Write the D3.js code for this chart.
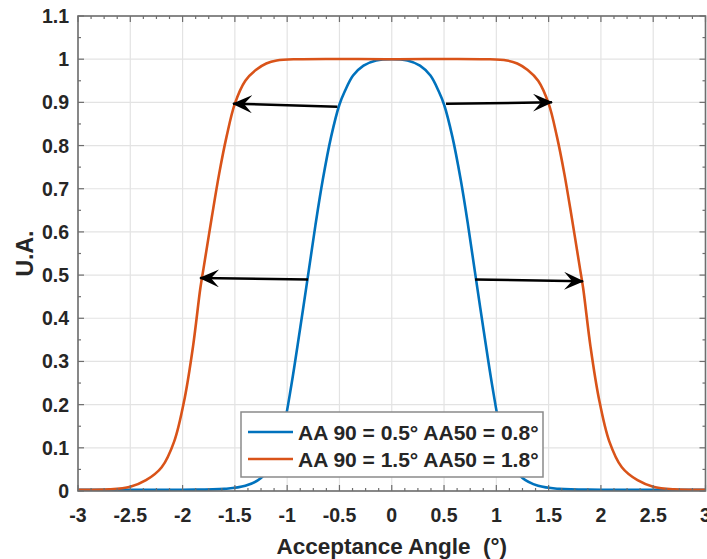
<!DOCTYPE html>
<html lang="en">
<head>
<meta charset="UTF-8">
<title>Acceptance Angle</title>
<script src="https://d3js.org/d3.v7.min.js"></script>
<style>
  body { margin: 0; background: #fff; }
  text { font-family: Arial, "Liberation Sans", sans-serif; font-weight: bold; fill: #262626; }
</style>
</head>
<body>
<div id="chart"></div>
<script>
// values
const blueX = [-3, -2, -1.6, -1.4, -1.25, -1.13, -1.04, -0.96, -0.88, -0.8, -0.73, -0.66, -0.58, -0.5, -0.45, -0.37, -0.27, -0.15, 0,
               0.15, 0.27, 0.37, 0.45, 0.5, 0.58, 0.66, 0.73, 0.8, 0.88, 0.96, 1.04, 1.13, 1.25, 1.4, 1.6, 2, 3];
const blueY = [0.003, 0.003, 0.005, 0.012, 0.03, 0.07, 0.14, 0.245, 0.37, 0.5, 0.615, 0.72, 0.82, 0.895, 0.925, 0.962, 0.985, 0.997, 1.0,
               0.997, 0.985, 0.962, 0.925, 0.895, 0.82, 0.72, 0.615, 0.5, 0.37, 0.245, 0.14, 0.07, 0.03, 0.012, 0.005, 0.003, 0.003];
const orangeX = [-3, -2.7, -2.5, -2.35, -2.2, -2.08, -1.98, -1.9, -1.83, -1.8, -1.72, -1.65, -1.58, -1.5, -1.4, -1.3, -1.2, -1.1, -0.9, 0,
                 0.9, 1.1, 1.2, 1.3, 1.4, 1.5, 1.58, 1.65, 1.72, 1.8, 1.83, 1.9, 1.98, 2.08, 2.2, 2.35, 2.5, 2.7, 3];
const orangeY = [0.003, 0.004, 0.01, 0.025, 0.055, 0.115, 0.215, 0.335, 0.47, 0.515, 0.635, 0.735, 0.82, 0.897, 0.95, 0.975, 0.99, 0.997, 1.0, 1.0,
                 1.0, 0.997, 0.99, 0.975, 0.95, 0.897, 0.82, 0.735, 0.635, 0.515, 0.47, 0.335, 0.215, 0.115, 0.055, 0.025, 0.01, 0.004, 0.003];
const seriesNames = ["AA 90 = 0.5\u00b0 AA50 = 0.8\u00b0", "AA 90 = 1.5\u00b0 AA50 = 1.8\u00b0"];
const xTicks = [-3, -2.5, -2, -1.5, -1, -0.5, 0, 0.5, 1, 1.5, 2, 2.5, 3];
const xTickLabels = ["-3", "-2.5", "-2", "-1.5", "-1", "-0.5", "0", "0.5", "1", "1.5", "2", "2.5", "3"];
const yTicks = [0, 0.1, 0.2, 0.3, 0.4, 0.5, 0.6, 0.7, 0.8, 0.9, 1, 1.1];
const yTickLabels = ["0", "0.1", "0.2", "0.3", "0.4", "0.5", "0.6", "0.7", "0.8", "0.9", "1", "1.1"];
// arrows: tail (x1,y1) -> head (x2,y2)
const arrows = [
  {x1: -0.52, y1: 0.890, x2: -1.517, y2: 0.897},
  {x1: 0.519, y1: 0.897, x2: 1.532, y2: 0.900},
  {x1: -0.80, y1: 0.490, x2: -1.833, y2: 0.493},
  {x1: 0.797, y1: 0.490, x2: 1.829, y2: 0.486}
];

const W = 707, H = 559;
const margin = {top: 16, right: 1.5, bottom: 68, left: 78};
const width = W - margin.left - margin.right;
const height = H - margin.top - margin.bottom;
const colors = ["#0072BD", "#D95319"];

const svg = d3.select("#chart").append("svg")
  .attr("width", W).attr("height", H);
const g = svg.append("g").attr("transform", `translate(${margin.left},${margin.top})`);

const x = d3.scaleLinear().domain([-3, 3]).range([0, width]);
const y = d3.scaleLinear().domain([0, 1.1]).range([height, 0]);

// grid
g.append("g").selectAll("line").data(xTicks).join("line")
  .attr("x1", d => x(d)).attr("x2", d => x(d)).attr("y1", 0).attr("y2", height)
  .attr("stroke", "#e3e3e3").attr("stroke-width", 1.2);
g.append("g").selectAll("line").data(yTicks).join("line")
  .attr("y1", d => y(d)).attr("y2", d => y(d)).attr("x1", 0).attr("x2", width)
  .attr("stroke", "#e3e3e3").attr("stroke-width", 1.2);

// curves
const line = d3.line().x(d => x(d[0])).y(d => y(d[1])).curve(d3.curveCatmullRom.alpha(0.5));
const blue = blueX.map((v, i) => [v, blueY[i]]);
const orange = orangeX.map((v, i) => [v, orangeY[i]]);
[blue, orange].forEach((s, i) => {
  g.append("path").datum(s).attr("d", line)
    .attr("fill", "none").attr("stroke", colors[i]).attr("stroke-width", 2.6);
});

// arrows
const defs = svg.append("defs");
defs.append("marker").attr("id", "head")
  .attr("viewBox", "0 0 20 18").attr("refX", 19).attr("refY", 9)
  .attr("markerWidth", 20).attr("markerHeight", 18)
  .attr("markerUnits", "userSpaceOnUse").attr("orient", "auto")
  .append("path").attr("d", "M0,0 L20,9 L0,18 L8,9 Z").attr("fill", "#000");
g.append("g").selectAll("line").data(arrows).join("line")
  .attr("x1", d => x(d.x1)).attr("y1", d => y(d.y1))
  .attr("x2", d => x(d.x2)).attr("y2", d => y(d.y2))
  .attr("stroke", "#000").attr("stroke-width", 2.5)
  .attr("marker-end", "url(#head)");

// axes box with inward ticks
const axisColor = "#6e6e6e";
const xMinor = d3.range(-3, 3.0001, 0.125);
const yMinor = d3.range(0, 1.1001, 0.05);
const tk = g.append("g").attr("stroke", axisColor).attr("stroke-width", 1.2);
xMinor.forEach(v => {
  const major = Math.abs(v * 2 - Math.round(v * 2)) < 1e-6;
  const len = major ? 6 : 3;
  tk.append("line").attr("x1", x(v)).attr("x2", x(v)).attr("y1", height).attr("y2", height - len);
  tk.append("line").attr("x1", x(v)).attr("x2", x(v)).attr("y1", 0).attr("y2", len);
});
yMinor.forEach(v => {
  const major = Math.abs(v * 10 - Math.round(v * 10)) < 1e-6;
  const len = major ? 6 : 3;
  tk.append("line").attr("y1", y(v)).attr("y2", y(v)).attr("x1", 0).attr("x2", len);
  tk.append("line").attr("y1", y(v)).attr("y2", y(v)).attr("x1", width).attr("x2", width - len);
});
g.append("rect").attr("width", width).attr("height", height)
  .attr("fill", "none").attr("stroke", axisColor).attr("stroke-width", 1.6);

// tick labels
g.append("g").selectAll("text").data(xTicks).join("text")
  .attr("x", d => x(d)).attr("y", height + 31)
  .attr("text-anchor", "middle").style("font-size", "19.5px")
  .text((d, i) => xTickLabels[i]);
g.append("g").selectAll("text").data(yTicks).join("text")
  .attr("x", -9).attr("y", d => y(d) + 7)
  .attr("text-anchor", "end").style("font-size", "19.5px")
  .text((d, i) => yTickLabels[i]);

// axis labels
svg.append("text")
  .attr("x", margin.left + width / 2).attr("y", 554)
  .attr("text-anchor", "middle").style("font-size", "22.5px")
  .text("Acceptance Angle\u00a0\u00a0(\u00b0)");
svg.append("text")
  .attr("transform", `translate(33,${margin.top + height / 2}) rotate(-90)`)
  .attr("text-anchor", "middle").style("font-size", "23px")
  .text("U.A.");

// legend
const lg = svg.append("g").attr("transform", "translate(241,412)");
lg.append("rect").attr("width", 302).attr("height", 65)
  .attr("fill", "#fff").attr("stroke", "#8a8a8a").attr("stroke-width", 1.5);
seriesNames.forEach((name, i) => {
  const cy = 20 + i * 27;
  lg.append("line").attr("x1", 7).attr("x2", 52).attr("y1", cy).attr("y2", cy)
    .attr("stroke", colors[i]).attr("stroke-width", 2.6);
  lg.append("text").attr("x", 57).attr("y", cy + 7.5)
    .style("font-size", "21px").text(name);
});
</script>
</body>
</html>
